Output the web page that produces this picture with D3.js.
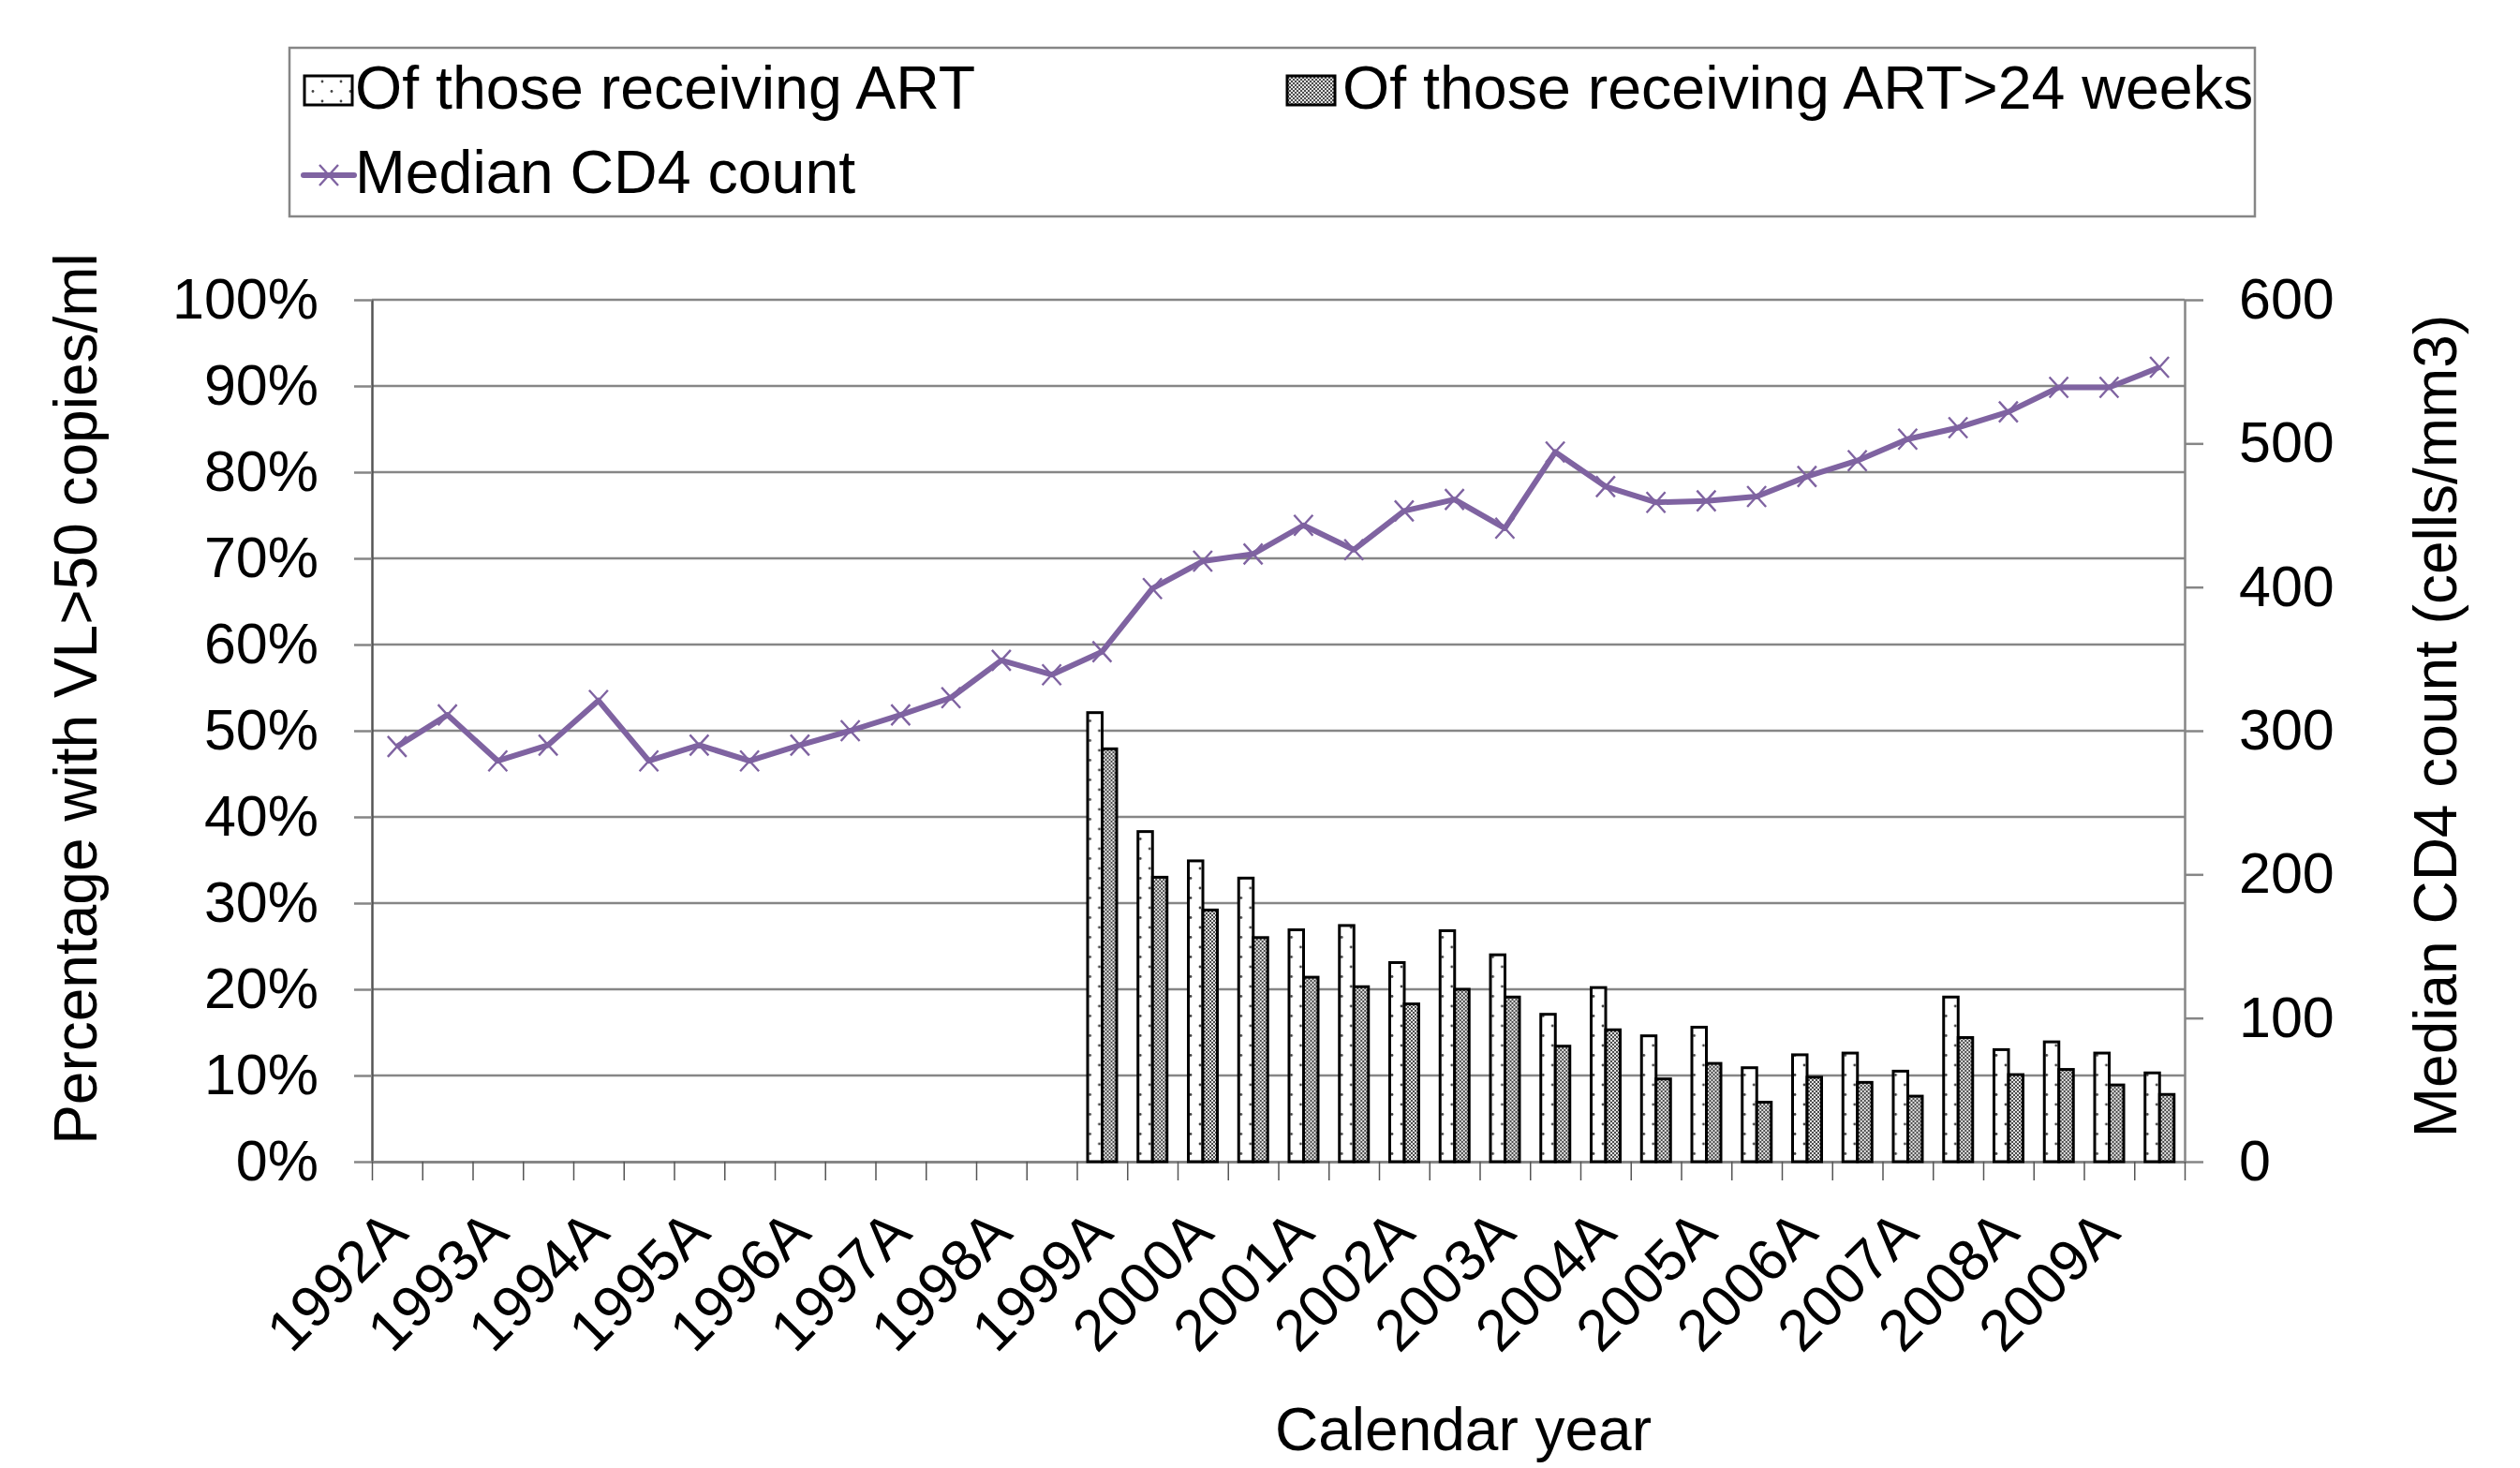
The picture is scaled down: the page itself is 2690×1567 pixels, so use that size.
<!DOCTYPE html>
<html>
<head>
<meta charset="utf-8">
<script src="https://cdn.jsdelivr.net/npm/d3@7"></script>
<style>
  body { margin: 0; background: #fff; }
  text { font-family: "Liberation Sans", Arial, sans-serif; fill: #000; }
</style>
</head>
<body>
<svg id="chart" width="2690" height="1567"></svg>
<script>
// half-year periods (A = first half, B = second half)
const periods = [
  "1992A", "1992B", "1993A", "1993B", "1994A", "1994B", "1995A", "1995B", "1996A", "1996B",
  "1997A", "1997B", "1998A", "1998B", "1999A", "1999B", "2000A", "2000B", "2001A", "2001B",
  "2002A", "2002B", "2003A", "2003B", "2004A", "2004B", "2005A", "2005B", "2006A", "2006B",
  "2007A", "2007B", "2008A", "2008B", "2009A", "2009B"
];

// % with VL>50 copies/ml, of those receiving ART (no data before 1999A)
const pctART = [
  null, null, null, null, null, null, null, null, null, null, null, null, null, null,
  52.1, 38.3, 34.9, 32.9, 26.9, 27.4, 23.1, 26.8, 24.0, 17.1, 20.2,
  14.6, 15.6, 10.9, 12.4, 12.6, 10.5, 19.1, 13.0, 13.9, 12.6, 10.3
];

// % with VL>50 copies/ml, of those receiving ART > 24 weeks
const pctART24 = [
  null, null, null, null, null, null, null, null, null, null, null, null, null, null,
  47.9, 33.0, 29.2, 26.0, 21.4, 20.3, 18.3, 20.0, 19.1, 13.4, 15.3,
  9.6, 11.4, 6.9, 9.8, 9.2, 7.6, 14.4, 10.1, 10.7, 8.9, 7.8
];

// median CD4 count (cells/mm3)
const medianCD4 = [
  289, 311, 279, 290, 321, 279, 290, 279, 290, 300, 311, 323, 349, 339, 355, 399, 418, 423,
  443, 426, 453, 461, 441, 494, 470, 459, 460, 463, 477, 488, 503, 511, 522, 539, 539, 553
];

const pctTicks = [0, 10, 20, 30, 40, 50, 60, 70, 80, 90, 100];
const cd4Ticks = [0, 100, 200, 300, 400, 500, 600];

const PURPLE = "#7f63a1";
const GRID = "#868686";

const plotLeft = 397, plotRight = 2332, plotTop = 320, plotBottom = 1240;

const svg = d3.select("#chart");
svg.append("rect").attr("width", 2690).attr("height", 1567).attr("fill", "#fff");

// fill patterns for the bars
const defs = svg.append("defs");
const dots = defs.append("pattern")
  .attr("id", "dots")
  .attr("patternUnits", "userSpaceOnUse")
  .attr("width", 20)
  .attr("height", 21);
dots.append("rect").attr("width", 20).attr("height", 21).attr("fill", "#fff");
dots.append("circle").attr("cx", 4).attr("cy", 3).attr("r", 1.4).attr("fill", "#444");
dots.append("circle").attr("cx", 14).attr("cy", 13.5).attr("r", 1.4).attr("fill", "#444");

const checker = defs.append("pattern")
  .attr("id", "checker")
  .attr("patternUnits", "userSpaceOnUse")
  .attr("width", 4)
  .attr("height", 4);
checker.append("rect").attr("width", 4).attr("height", 4).attr("fill", "#e2e2e2");
checker.append("rect").attr("width", 2).attr("height", 2).attr("fill", "#4c4c4c");
checker.append("rect").attr("x", 2).attr("y", 2).attr("width", 2).attr("height", 2).attr("fill", "#4c4c4c");

// scales
const x = d3.scaleBand().domain(periods).range([plotLeft, plotRight]).padding(0);
const xSub = d3.scaleBand().domain(["art", "art24"]).range([11.5, 42.5]);
const xEdge = d3.scaleLinear().domain([0, periods.length]).range([plotLeft, plotRight]);
const yLeft = d3.scaleLinear().domain([0, 100]).range([plotBottom, plotTop]);
const yRight = d3.scaleLinear().domain([0, 600]).range([plotBottom, plotTop]);

// horizontal gridlines
svg.append("g")
  .selectAll("line")
  .data(pctTicks.filter(d => d > 0))
  .join("line")
  .attr("x1", plotLeft)
  .attr("x2", plotRight)
  .attr("y1", d => yLeft(d))
  .attr("y2", d => yLeft(d))
  .attr("stroke", GRID)
  .attr("stroke-width", 2.5);

// left axis
const gLeft = svg.append("g")
  .attr("transform", `translate(${plotLeft},0)`)
  .call(d3.axisLeft(yLeft)
    .tickValues(pctTicks)
    .tickFormat(d => d + "%")
    .tickSizeInner(19)
    .tickSizeOuter(0)
    .tickPadding(38));
gLeft.select(".domain").attr("stroke", "#555").attr("stroke-width", 2.5);
gLeft.selectAll(".tick line").attr("stroke", GRID).attr("stroke-width", 2.5);
gLeft.selectAll(".tick text")
  .attr("font-size", 61)
  .attr("font-family", null)
  .attr("fill", "#000");

// right axis
const gRight = svg.append("g")
  .attr("transform", `translate(${plotRight},0)`)
  .call(d3.axisRight(yRight)
    .tickValues(cd4Ticks)
    .tickSizeInner(20)
    .tickSizeOuter(0)
    .tickPadding(38));
gRight.select(".domain").attr("stroke", GRID).attr("stroke-width", 2.5);
gRight.selectAll(".tick line").attr("stroke", GRID).attr("stroke-width", 2.5);
gRight.selectAll(".tick text")
  .attr("font-size", 61)
  .attr("font-family", null)
  .attr("fill", "#000");

// bottom axis: ticks at category boundaries
const gBottom = svg.append("g")
  .attr("transform", `translate(0,${plotBottom})`)
  .call(d3.axisBottom(xEdge)
    .tickValues(d3.range(periods.length + 1))
    .tickFormat("")
    .tickSizeInner(20)
    .tickSizeOuter(0));
gBottom.select(".domain").attr("stroke", GRID).attr("stroke-width", 3);
gBottom.selectAll(".tick line").attr("stroke", "#555").attr("stroke-width", 1.5);

// bottom labels, every other period, rotated
const gLabels = svg.append("g")
  .attr("transform", `translate(0,${plotBottom})`)
  .call(d3.axisBottom(x)
    .tickValues(periods.filter((d, i) => i % 2 === 0))
    .tickSize(0));
gLabels.select(".domain").remove();
gLabels.selectAll(".tick text")
  .attr("font-size", 62)
  .attr("font-family", null)
  .attr("fill", "#000")
  .attr("x", 0)
  .attr("y", 0)
  .attr("dy", null)
  .attr("text-anchor", "end")
  .attr("transform", "translate(14,79) rotate(-45)");

// bars
const barData = periods.map((p, i) => ({ p, art: pctART[i], art24: pctART24[i] }))
  .filter(d => d.art !== null);

const groups = svg.append("g")
  .selectAll("g")
  .data(barData)
  .join("g")
  .attr("transform", d => `translate(${x(d.p)},0)`);

groups.append("rect")
  .attr("x", xSub("art"))
  .attr("width", xSub.bandwidth())
  .attr("y", d => yLeft(d.art))
  .attr("height", d => yLeft(0) - yLeft(d.art))
  .attr("fill", "url(#dots)")
  .attr("stroke", "#000")
  .attr("stroke-width", 3);

groups.append("rect")
  .attr("x", xSub("art24"))
  .attr("width", xSub.bandwidth())
  .attr("y", d => yLeft(d.art24))
  .attr("height", d => yLeft(0) - yLeft(d.art24))
  .attr("fill", "url(#checker)")
  .attr("stroke", "#000")
  .attr("stroke-width", 3);

// median CD4 line
const cx = (d, i) => x(periods[i]) + x.bandwidth() / 2;
const line = d3.line()
  .x(cx)
  .y(d => yRight(d));

svg.append("path")
  .datum(medianCD4)
  .attr("d", line)
  .attr("fill", "none")
  .attr("stroke", PURPLE)
  .attr("stroke-width", 6)
  .attr("stroke-linejoin", "round");

const xMark = "M-10,-11L10,11M-10,11L10,-11";
svg.append("g")
  .selectAll("path")
  .data(medianCD4)
  .join("path")
  .attr("transform", (d, i) => `translate(${cx(d, i)},${yRight(d)})`)
  .attr("d", xMark)
  .attr("stroke", PURPLE)
  .attr("stroke-width", 2.4)
  .attr("fill", "none");

// axis titles
svg.append("text")
  .attr("transform", "translate(103,746) rotate(-90)")
  .attr("text-anchor", "middle")
  .attr("font-size", 64)
  .text("Percentage with VL>50 copies/ml");

svg.append("text")
  .attr("transform", "translate(2622,775) rotate(-90)")
  .attr("text-anchor", "middle")
  .attr("font-size", 64)
  .text("Median CD4 count (cells/mm3)");

svg.append("text")
  .attr("x", 1562)
  .attr("y", 1548)
  .attr("text-anchor", "middle")
  .attr("font-size", 64)
  .text("Calendar year");

// legend
const legend = svg.append("g");
legend.append("rect")
  .attr("x", 309).attr("y", 51)
  .attr("width", 2098).attr("height", 180)
  .attr("fill", "#fff")
  .attr("stroke", GRID)
  .attr("stroke-width", 2.5);

legend.append("rect")
  .attr("x", 325).attr("y", 81).attr("width", 51).attr("height", 31)
  .attr("fill", "url(#dots)").attr("stroke", "#000").attr("stroke-width", 3);
legend.append("text")
  .attr("x", 379).attr("y", 116).attr("font-size", 64.5)
  .text("Of those receiving ART");

legend.append("rect")
  .attr("x", 1374).attr("y", 81).attr("width", 51).attr("height", 31)
  .attr("fill", "url(#checker)").attr("stroke", "#000").attr("stroke-width", 3);
legend.append("text")
  .attr("x", 1433).attr("y", 116).attr("font-size", 64.5)
  .text("Of those receiving ART>24 weeks");

legend.append("line")
  .attr("x1", 324).attr("x2", 378).attr("y1", 187).attr("y2", 187)
  .attr("stroke", PURPLE).attr("stroke-width", 6).attr("stroke-linecap", "round");
legend.append("path")
  .attr("transform", "translate(351,187)")
  .attr("d", xMark)
  .attr("stroke", PURPLE).attr("stroke-width", 2.4).attr("fill", "none");
legend.append("text")
  .attr("x", 379).attr("y", 206).attr("font-size", 64.5)
  .text("Median CD4 count");
</script>
</body>
</html>
